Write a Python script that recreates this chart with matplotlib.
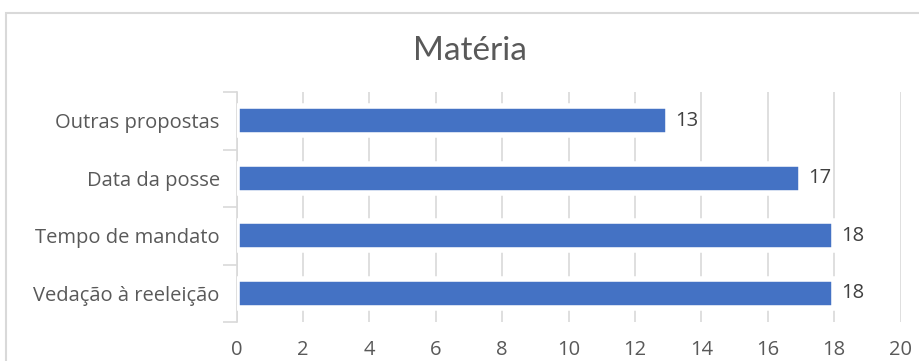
import matplotlib
matplotlib.use("Agg")
import matplotlib.pyplot as plt
from matplotlib.patches import Rectangle

# Data
categories = ["Vedação à reeleição", "Tempo de mandato", "Data da posse", "Outras propostas"]
values = [18, 18, 17, 13]
x_ticks = list(range(0, 21, 2))
title = "Matéria"

BAR_COLOR = "#4472C4"
GRID_COLOR = "#d9d9d9"
TEXT_COLOR = "#595959"
LABEL_COLOR = "#404040"
TITLE_FONT = ["Lato", "DejaVu Sans"]
FONT = ["Open Sans", "DejaVu Sans"]
FS = 14.5

W, H = 919, 361
fig = plt.figure(figsize=(W / 100, H / 100), dpi=100)
fig.patch.set_facecolor("white")

# chart frame (top and left edges visible)
fig.patches.append(Rectangle((5.5 / W, -0.2), 1.2, (H - 12.5) / H + 0.2,
                             transform=fig.transFigure, fill=False,
                             edgecolor="#d9d9d9", linewidth=1.5))

ax = fig.add_axes([236.5 / W, 39 / H, 664 / W, 230 / H])
ax.set_facecolor("none")

y = list(range(len(categories)))

# thick white outline: trims the bar slightly and cuts the gridlines around it
ax.barh(y, values, height=0.5, color=BAR_COLOR, zorder=3,
        edgecolor="white", linewidth=4)

for yi, v in zip(y, values):
    ax.text(v + 0.22, yi, f"{v}", va="center", ha="left", fontsize=FS,
            color=LABEL_COLOR, family=FONT, zorder=4)

ax.set_xlim(0, 20)
ax.set_ylim(-0.5, len(categories) - 0.5)
ax.set_xticks(x_ticks)
ax.set_xticklabels([str(t) for t in x_ticks], family=FONT, fontsize=FS, color=TEXT_COLOR)
ax.tick_params(axis="x", length=0, pad=13)
ax.grid(axis="x", color=GRID_COLOR, linewidth=1.2, zorder=1)
ax.set_axisbelow(True)

# category boundaries carry the tick marks, labels sit at the centres
ax.set_yticks([i - 0.5 for i in range(len(categories) + 1)])
ax.set_yticklabels([])
ax.tick_params(axis="y", which="major", length=10, width=1.2, color=GRID_COLOR, direction="out")
ax.set_yticks(y, minor=True)
ax.set_yticklabels(categories, minor=True, family=FONT, fontsize=FS, color=TEXT_COLOR)
ax.tick_params(axis="y", which="minor", length=0, pad=12)

for side in ("top", "right", "bottom"):
    ax.spines[side].set_visible(False)
ax.spines["left"].set_color(GRID_COLOR)
ax.spines["left"].set_linewidth(1.2)
ax.spines["left"].set_zorder(1)

fig.text(470 / W, 1 - 51 / H, title, ha="center", va="center", fontsize=24,
         color=TEXT_COLOR, family=TITLE_FONT)

fig.savefig("out.png", dpi=100, facecolor="white")
